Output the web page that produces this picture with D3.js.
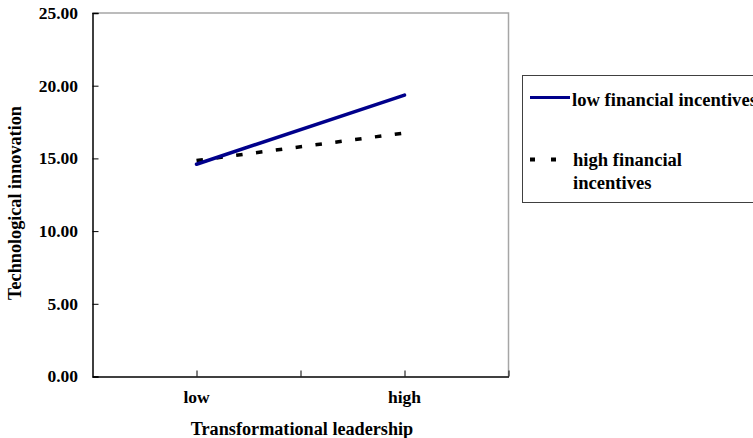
<!DOCTYPE html>
<html>
<head>
<meta charset="utf-8">
<script src="https://cdn.jsdelivr.net/npm/d3@7/dist/d3.min.js"></script>
<style>
  body { margin: 0; background: #fff; overflow: hidden; }
  svg text { font-family: "Liberation Serif", "Times New Roman", serif; font-weight: bold; fill: #000; }
</style>
</head>
<body>
<svg id="chart" width="753" height="438"></svg>
<script>
// ---- data ----
const xLabels = ["low", "high"];
const xLevels = [1, 3];            // positions of the two levels on a 0..4 axis
const xTickValues = [1, 2, 3, 4];
const yTicks = [0, 5, 10, 15, 20, 25];
const seriesNames = ["low financial incentives", "high financial incentives"];
const lowIncentives = [14.6, 19.35];
const highIncentives = [14.85, 16.75];

// ---- layout ----
const svg = d3.select("#chart");
const L = 92.5, R = 508.5, T = 13, B = 376.5;

const x = d3.scaleLinear().domain([0, 4]).range([L, R]);
const y = d3.scaleLinear().domain([0, 25]).range([B, T]);

// top/right frame (grey)
svg.append("path")
  .attr("d", `M${L},${T}H${R}V${B}`)
  .attr("fill", "none").attr("stroke", "#a6a6a6").attr("stroke-width", 1.5);

// y axis (ticks inside)
const yAxis = svg.append("g").attr("transform", `translate(${L},0)`)
  .call(d3.axisRight(y).tickValues(yTicks).tickSize(6).tickFormat(() => ""));
yAxis.select(".domain").attr("stroke", "#000").attr("stroke-width", 1.5);
yAxis.selectAll(".tick line").attr("stroke", "#000").attr("stroke-width", 1);
svg.append("g").selectAll("text").data(yTicks).join("text")
  .attr("x", 78).attr("y", d => y(d)).attr("dy", "0.34em")
  .attr("text-anchor", "end").attr("font-size", 17.5)
  .text(d => d3.format(".2f")(d));

// x axis (ticks inside)
const xAxis = svg.append("g").attr("transform", `translate(0,${B})`)
  .call(d3.axisTop(x).tickValues(xTickValues).tickSize(6).tickSizeOuter(0).tickFormat(() => ""));
xAxis.select(".domain").attr("stroke", "#000").attr("stroke-width", 1.5);
xAxis.selectAll(".tick line").attr("stroke", "#000").attr("stroke-width", 1);
svg.append("g").selectAll("text").data(xLevels).join("text")
  .attr("x", d => x(d)).attr("y", 402.5)
  .attr("text-anchor", "middle").attr("font-size", 17.5)
  .text((d, i) => xLabels[i]);

// axis titles
svg.append("text").attr("x", 302).attr("y", 435)
  .attr("text-anchor", "middle").attr("font-size", 18.2)
  .text("Transformational leadership");
svg.append("text").attr("transform", "translate(21,203) rotate(-90)")
  .attr("text-anchor", "middle").attr("font-size", 18.2)
  .text("Technological innovation");

// lines
const line = d3.line().x((d, i) => x(xLevels[i])).y(d => y(d));
svg.append("path").datum(highIncentives).attr("d", line)
  .attr("fill", "none").attr("stroke", "#000").attr("stroke-width", 3.5)
  .attr("stroke-dasharray", "6.5,13.5");
svg.append("path").datum(lowIncentives).attr("d", line)
  .attr("fill", "none").attr("stroke", "#00008b").attr("stroke-width", 3.5)
  .attr("stroke-linecap", "round");

// legend
const lg = svg.append("g");
lg.append("rect").attr("x", 522.5).attr("y", 75.5).attr("width", 260).attr("height", 127)
  .attr("fill", "#fff").attr("stroke", "#404040").attr("stroke-width", 1);
lg.append("line").attr("x1", 530).attr("x2", 570).attr("y1", 97.5).attr("y2", 97.5)
  .attr("stroke", "#00008b").attr("stroke-width", 3);
lg.append("text").attr("x", 572).attr("y", 105.5).attr("font-size", 18.6).text(seriesNames[0]);
lg.append("line").attr("x1", 530).attr("x2", 556).attr("y1", 159.5).attr("y2", 159.5)
  .attr("stroke", "#000").attr("stroke-width", 4).attr("stroke-dasharray", "5,16");
const t2 = lg.append("text").attr("x", 573).attr("y", 165.5).attr("font-size", 18.6);
t2.append("tspan").attr("x", 573).text("high financial");
t2.append("tspan").attr("x", 573).attr("y", 188.5).text("incentives");
</script>
</body>
</html>
